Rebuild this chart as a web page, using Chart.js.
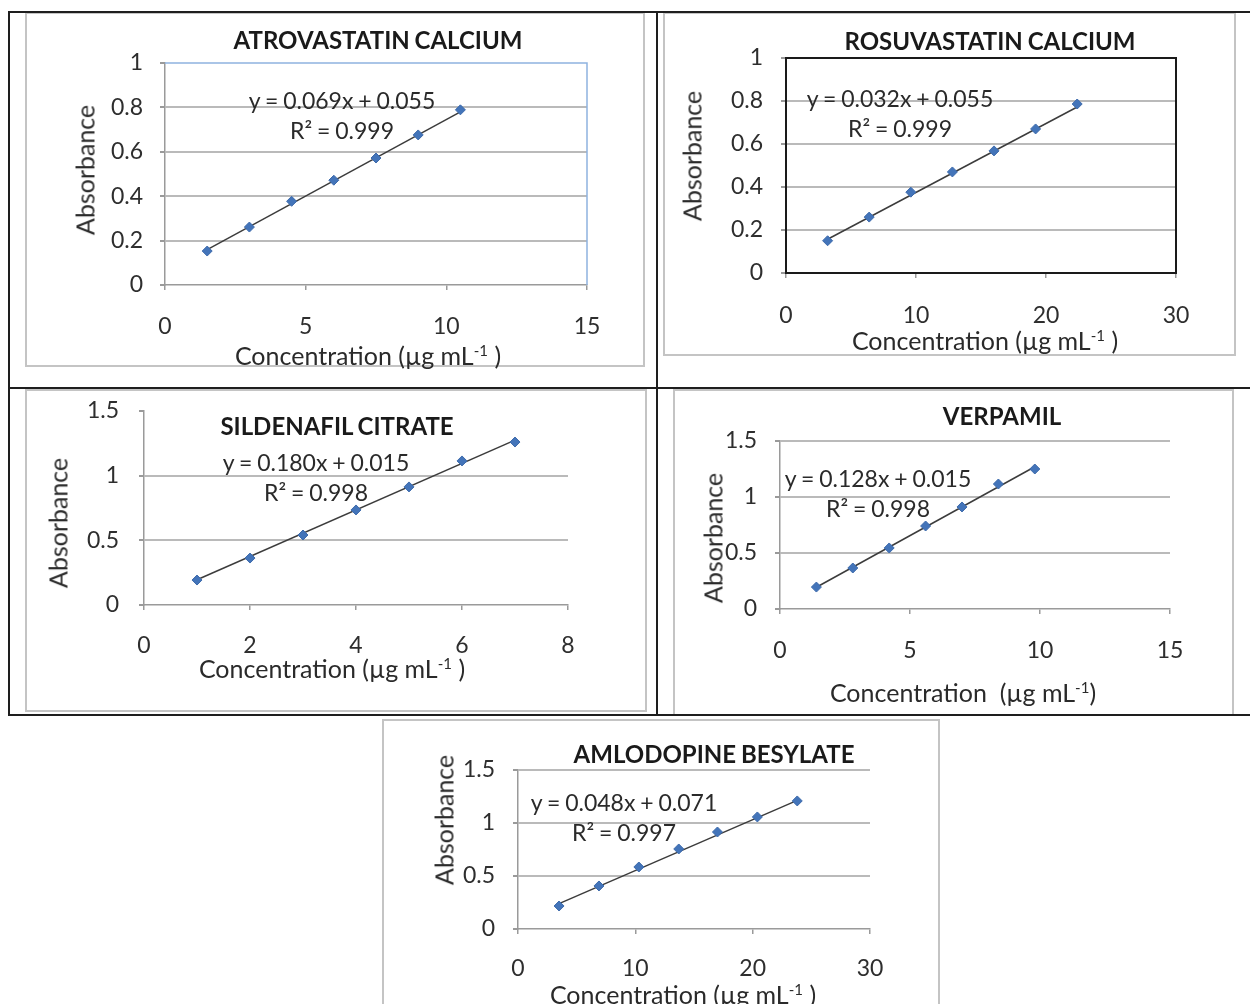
<!DOCTYPE html>
<html><head><meta charset="utf-8">
<script src="https://cdn.jsdelivr.net/npm/chart.js@4.4.1/dist/chart.umd.min.js"></script>
<style>
html,body{margin:0;padding:0;width:1250px;height:1004px;overflow:hidden;background:#fff;font-family:Lato,sans-serif;}
.ln{position:absolute;background:#1e1e1e;}
.frame{position:absolute;border:2px solid #c4c4c4;box-sizing:border-box;background:#fff;}
canvas{position:absolute;left:0;top:0;pointer-events:none;}
.t{position:absolute;white-space:nowrap;transform:translate(-50%,-50%);color:#2a2a2a;line-height:1;}
.ttl{font-weight:bold;font-size:24px;word-spacing:-1px;color:#1a1a1a;}
.eq{font-size:23px;word-spacing:-1px;}
.ax{font-size:25px;}
.yt{transform:translate(-50%,-50%) rotate(-90deg);}
sup{font-size:60%;vertical-align:0.55em;line-height:0;}
</style></head><body>

<div class="frame" style="left:25px;top:12px;width:620px;height:355px"></div>
<div class="frame" style="left:663px;top:12px;width:573px;height:344px"></div>
<div class="frame" style="left:25px;top:389px;width:622px;height:323px"></div>
<div class="frame" style="left:673px;top:389px;width:561px;height:327px"></div>
<div class="frame" style="left:382px;top:719px;width:558px;height:300px"></div>

<div class="ln" style="left:9px;top:11px;width:1241px;height:2px"></div>
<div class="ln" style="left:9px;top:387px;width:1241px;height:2px"></div>
<div class="ln" style="left:9px;top:714px;width:1241px;height:2px"></div>
<div class="ln" style="left:8px;top:11px;width:2px;height:705px"></div>
<div class="ln" style="left:656px;top:11px;width:2px;height:705px"></div>

<canvas id="c1" width="1250" height="1030"></canvas>
<canvas id="c2" width="1250" height="1030"></canvas>
<canvas id="c3" width="1250" height="1030"></canvas>
<canvas id="c4" width="1250" height="1030"></canvas>
<canvas id="c5" width="1250" height="1030"></canvas>

<div class="t ttl" style="left:378px;top:40px">ATROVASTATIN CALCIUM</div>
<div class="t eq" style="left:342px;top:100px">y = 0.069x + 0.055</div>
<div class="t eq" style="left:342px;top:130px">R² = 0.999</div>
<div class="t ax yt" style="left:85px;top:170px">Absorbance</div>
<div class="t ax" style="left:368px;top:355px">Concentration (µg mL<sup>-1</sup> )</div>

<div class="t ttl" style="left:990px;top:41px">ROSUVASTATIN CALCIUM</div>
<div class="t eq" style="left:900px;top:98px">y = 0.032x + 0.055</div>
<div class="t eq" style="left:900px;top:128px">R² = 0.999</div>
<div class="t ax yt" style="left:692px;top:156px">Absorbance</div>
<div class="t ax" style="left:985px;top:340px">Concentration (µg mL<sup>-1</sup> )</div>

<div class="t ttl" style="left:337px;top:426px">SILDENAFIL CITRATE</div>
<div class="t eq" style="left:316px;top:462px">y = 0.180x + 0.015</div>
<div class="t eq" style="left:316px;top:492px">R² = 0.998</div>
<div class="t ax yt" style="left:58px;top:523px">Absorbance</div>
<div class="t ax" style="left:332px;top:668px">Concentration (µg mL<sup>-1</sup> )</div>

<div class="t ttl" style="left:1002px;top:416px">VERPAMIL</div>
<div class="t eq" style="left:878px;top:478px">y = 0.128x + 0.015</div>
<div class="t eq" style="left:878px;top:508px">R² = 0.998</div>
<div class="t ax yt" style="left:713px;top:538px">Absorbance</div>
<div class="t ax" style="left:963px;top:692px">Concentration&nbsp; (µg mL<sup>-1</sup>)</div>

<div class="t ttl" style="left:714px;top:754px">AMLODOPINE BESYLATE</div>
<div class="t eq" style="left:624px;top:802px">y = 0.048x + 0.071</div>
<div class="t eq" style="left:624px;top:832px">R² = 0.997</div>
<div class="t ax yt" style="left:444px;top:820px">Absorbance</div>
<div class="t ax" style="left:683px;top:994px">Concentration (µg mL<sup>-1</sup> )</div>

<script>
// ---- data ----
const atorConc = [1.5, 3, 4.5, 6, 7.5, 9, 10.5];
const atorAbs  = [0.153, 0.261, 0.377, 0.472, 0.572, 0.676, 0.789];
const atorTrendX = [1.5, 10.5];
const atorTrendY = [0.159, 0.780];
const atorXTicks = [0, 15, 5];
const atorYTicks = [0, 1, 0.2];

const rosuConc = [3.2, 6.4, 9.6, 12.8, 16, 19.2, 22.4];
const rosuAbs  = [0.150, 0.260, 0.376, 0.470, 0.568, 0.670, 0.786];
const rosuTrendX = [3.2, 22.4];
const rosuTrendY = [0.157, 0.772];
const rosuXTicks = [0, 30, 10];
const rosuYTicks = [0, 1, 0.2];

const sildConc = [1, 2, 3, 4, 5, 6, 7];
const sildAbs  = [0.193, 0.363, 0.541, 0.735, 0.913, 1.114, 1.260];
const sildTrendX = [1, 7];
const sildTrendY = [0.195, 1.275];
const sildXTicks = [0, 8, 2];
const sildYTicks = [0, 1.5, 0.5];

const verpConc = [1.4, 2.8, 4.2, 5.6, 7.0, 8.4, 9.8];
const verpAbs  = [0.196, 0.366, 0.545, 0.741, 0.911, 1.116, 1.250];
const verpTrendX = [1.4, 9.8];
const verpTrendY = [0.194, 1.270];
const verpXTicks = [0, 15, 5];
const verpYTicks = [0, 1.5, 0.5];

const amloConc = [3.5, 6.9, 10.3, 13.7, 17.0, 20.4, 23.8];
const amloAbs  = [0.217, 0.406, 0.585, 0.755, 0.915, 1.057, 1.208];
const amloTrendX = [3.5, 23.8];
const amloTrendY = [0.239, 1.213];
const amloXTicks = [0, 30, 10];
const amloYTicks = [0, 1.5, 0.5];

// ---- layout / styling ----
const CW = 1250, CH = 1030, YW = 80, XH = 60;
const TICK_FONT = {family: 'Lato', size: 23};
const fmt = v => String(Math.round(v * 100) / 100);

const plotBorder = {
  id: 'plotBorder',
  beforeDatasetsDraw(chart, args, opts) {
    const a = chart.chartArea, c = chart.ctx;
    if (!opts || !opts.mode) return;
    c.save();
    if (opts.mode === 'blueTR') {
      c.strokeStyle = '#8fb3e0'; c.lineWidth = 1.5;
      c.beginPath(); c.moveTo(a.left, a.top); c.lineTo(a.right, a.top); c.lineTo(a.right, a.bottom); c.stroke();
    } else if (opts.mode === 'black') {
      c.strokeStyle = '#1a1a1a'; c.lineWidth = 2;
      c.strokeRect(a.left, a.top, a.right - a.left, a.bottom - a.top);
    }
    c.restore();
  }
};

function zeroPad(s) { s.paddingLeft = 0; s.paddingRight = 0; s.paddingTop = 0; s.paddingBottom = 0; }

function build(id, xs, ys, tx, ty, xt, yt, o) {
  const pts = xs.map((x, i) => ({x: x, y: ys[i]}));
  const tr = tx.map((x, i) => ({x: x, y: ty[i]}));
  new Chart(document.getElementById(id), {
    type: 'scatter',
    data: {datasets: [
      {data: pts, pointStyle: 'rectRot', pointRadius: 5, backgroundColor: '#4374b9', borderColor: '#3d6aab', borderWidth: 1, order: 0},
      {data: tr, showLine: true, pointRadius: 0, borderColor: '#3c3c3c', borderWidth: 1.5, fill: false, order: 1}
    ]},
    options: {
      responsive: false, animation: false, events: [],
      layout: {padding: {left: o.l - YW, top: o.t, right: CW - o.r, bottom: CH - o.b - XH}},
      plugins: {legend: {display: false}, tooltip: {enabled: false}, plotBorder: {mode: o.border}},
      scales: {
        x: {
          type: 'linear', min: xt[0], max: xt[1],
          ticks: {stepSize: xt[2], font: TICK_FONT, color: '#2e2e2e', padding: o.xPad, maxRotation: 0, callback: fmt},
          grid: {drawOnChartArea: false, drawTicks: true, tickLength: 5, tickColor: '#9a9a9a', lineWidth: 1.5},
          border: {color: '#9a9a9a', width: 1.5},
          afterFit: s => { s.height = XH; zeroPad(s); }
        },
        y: {
          type: 'linear', min: yt[0], max: yt[1],
          ticks: {stepSize: yt[2], font: TICK_FONT, color: '#2e2e2e', padding: o.yPad, callback: fmt},
          grid: {
            color: c => (c.tick.value === yt[0] || (c.tick.value === yt[1] && !o.topGrid)) ? 'rgba(0,0,0,0)' : '#bababa',
            lineWidth: 2, drawTicks: true, tickLength: 5, tickColor: '#9a9a9a'
          },
          border: {color: '#9a9a9a', width: 1.5},
          afterFit: s => { s.width = YW; zeroPad(s); }
        }
      }
    },
    plugins: [plotBorder]
  });
}

build('c1', atorConc, atorAbs, atorTrendX, atorTrendY, atorXTicks, atorYTicks,
  {l: 165, t: 63, r: 587, b: 285, xPad: 23, yPad: 17, border: 'blueTR', topGrid: false});
build('c2', rosuConc, rosuAbs, rosuTrendX, rosuTrendY, rosuXTicks, rosuYTicks,
  {l: 786, t: 58, r: 1176, b: 273, xPad: 24, yPad: 18, border: 'black', topGrid: false});
build('c3', sildConc, sildAbs, sildTrendX, sildTrendY, sildXTicks, sildYTicks,
  {l: 144, t: 411, r: 568, b: 605, xPad: 22, yPad: 20, border: null, topGrid: false});
build('c4', verpConc, verpAbs, verpTrendX, verpTrendY, verpXTicks, verpYTicks,
  {l: 780, t: 441, r: 1170, b: 609, xPad: 23, yPad: 18, border: null, topGrid: true});
build('c5', amloConc, amloAbs, amloTrendX, amloTrendY, amloXTicks, amloYTicks,
  {l: 518, t: 770, r: 870, b: 929, xPad: 21, yPad: 18, border: null, topGrid: true});
</script>
</body></html>
